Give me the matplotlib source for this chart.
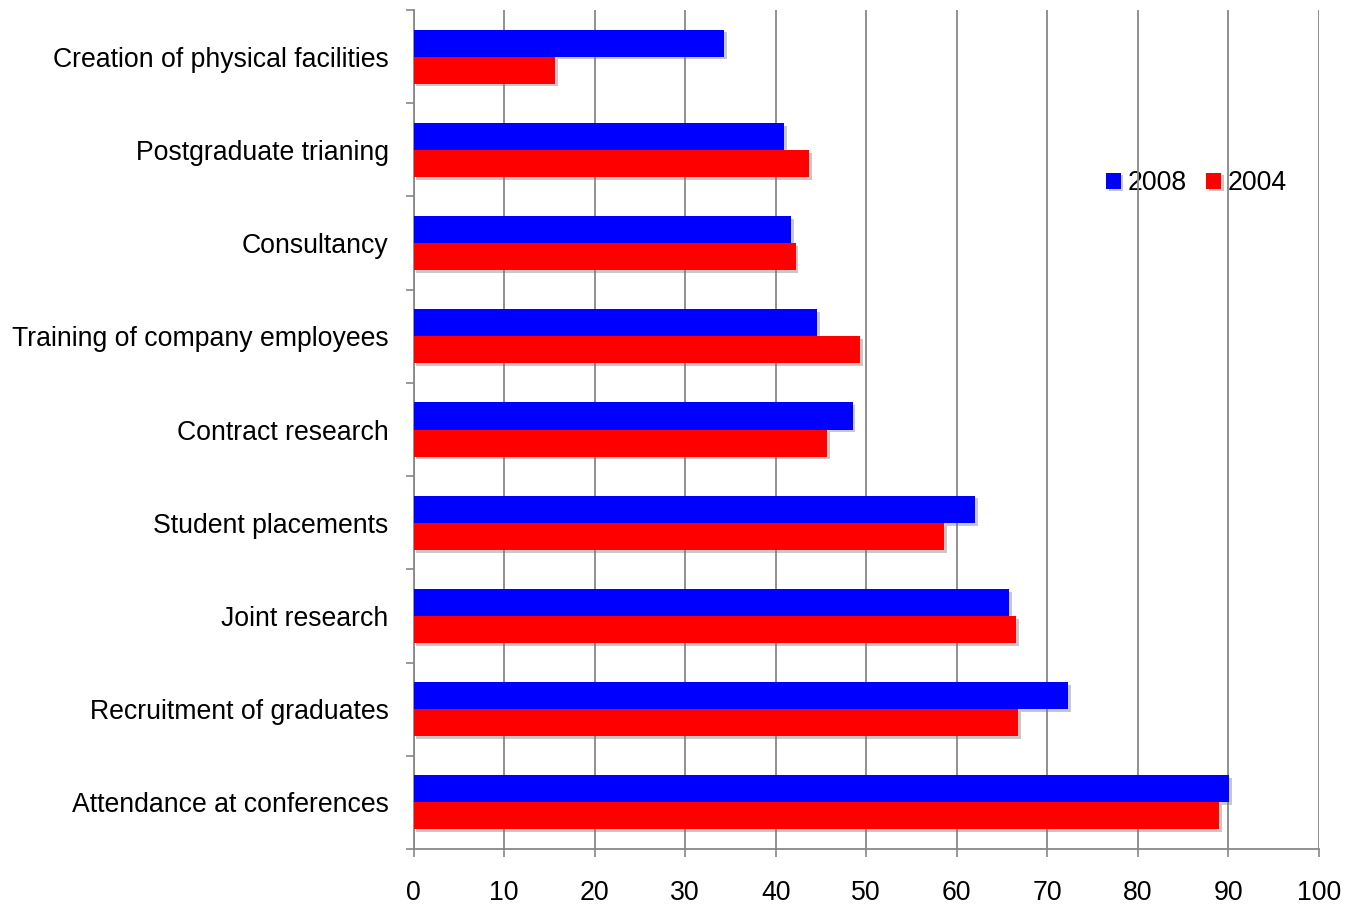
import matplotlib
matplotlib.use("Agg")
import matplotlib.pyplot as plt
import matplotlib.patheffects as pe
import numpy as np

plt.rcParams['font.family'] = ['Liberation Sans', 'DejaVu Sans']

categories = [
    "Creation of physical facilities",
    "Postgraduate trianing",
    "Consultancy",
    "Training of company employees",
    "Contract research",
    "Student placements",
    "Joint research",
    "Recruitment of graduates",
    "Attendance at conferences",
]
values_2008 = [34.3, 40.9, 41.7, 44.6, 48.5, 62.0, 65.8, 72.3, 90.1]
values_2004 = [15.6, 43.7, 42.2, 49.3, 45.7, 58.6, 66.6, 66.8, 89.0]
x_ticks = [0, 10, 20, 30, 40, 50, 60, 70, 80, 90, 100]

W, H = 1346, 906
FS = 19.2

fig = plt.figure(figsize=(W / 100, H / 100), dpi=100)
ax = fig.add_axes([413.7 / W, (H - 849) / H, (1318.7 - 413.7) / W, (849 - 10) / H])
ax.patch.set_alpha(0)

n = len(categories)
pos = np.arange(n)[::-1].astype(float)
h = 0.29
shadow = [pe.SimplePatchShadow(offset=(2, -2), shadow_rgbFace='#777777', alpha=0.4), pe.Normal()]

b1 = ax.barh(pos + h / 2, values_2008, height=h, color='#0000FF', label='2008', zorder=3)
b2 = ax.barh(pos - h / 2, values_2004, height=h, color='#FF0000', label='2004', zorder=3)
for bar in list(b1) + list(b2):
    bar.set_path_effects(shadow)

ax.set_xlim(0, 100)
ax.set_ylim(-0.5, n - 0.5)
ax.set_xticks(x_ticks)
ax.set_xticklabels([str(t) for t in x_ticks], fontsize=FS)
ax.set_yticks(pos)
ax.set_yticklabels(categories, fontsize=FS)
ax.tick_params(axis='y', length=0, pad=18)
ax.set_yticks(np.arange(-0.5, n, 1.0), minor=True)
ax.tick_params(axis='y', which='minor', length=6, color='#888888', width=1.2, direction='out')
ax.tick_params(axis='x', length=6, color='#888888', width=1.2, direction='out', pad=16)

ax.xaxis.grid(True, color='#888888', linewidth=1.3, zorder=1)
ax.set_axisbelow(True)

for s in ['top', 'right']:
    ax.spines[s].set_visible(False)
for s in ['left', 'bottom']:
    ax.spines[s].set_color('#888888')
    ax.spines[s].set_linewidth(1.3)

# legend sits beneath the axes so the gridlines run over it
leg = fig.legend(handles=[b1, b2], labels=['2008', '2004'], loc='center left',
                 bbox_to_anchor=(1106 / W, (H - 183) / H), ncol=2, frameon=False,
                 fontsize=FS, handlelength=0.55, handleheight=0.55, handletextpad=0.25,
                 columnspacing=0.75, borderaxespad=0, borderpad=0)
leg.set_zorder(-1)

fig.savefig("out.png", dpi=100)
